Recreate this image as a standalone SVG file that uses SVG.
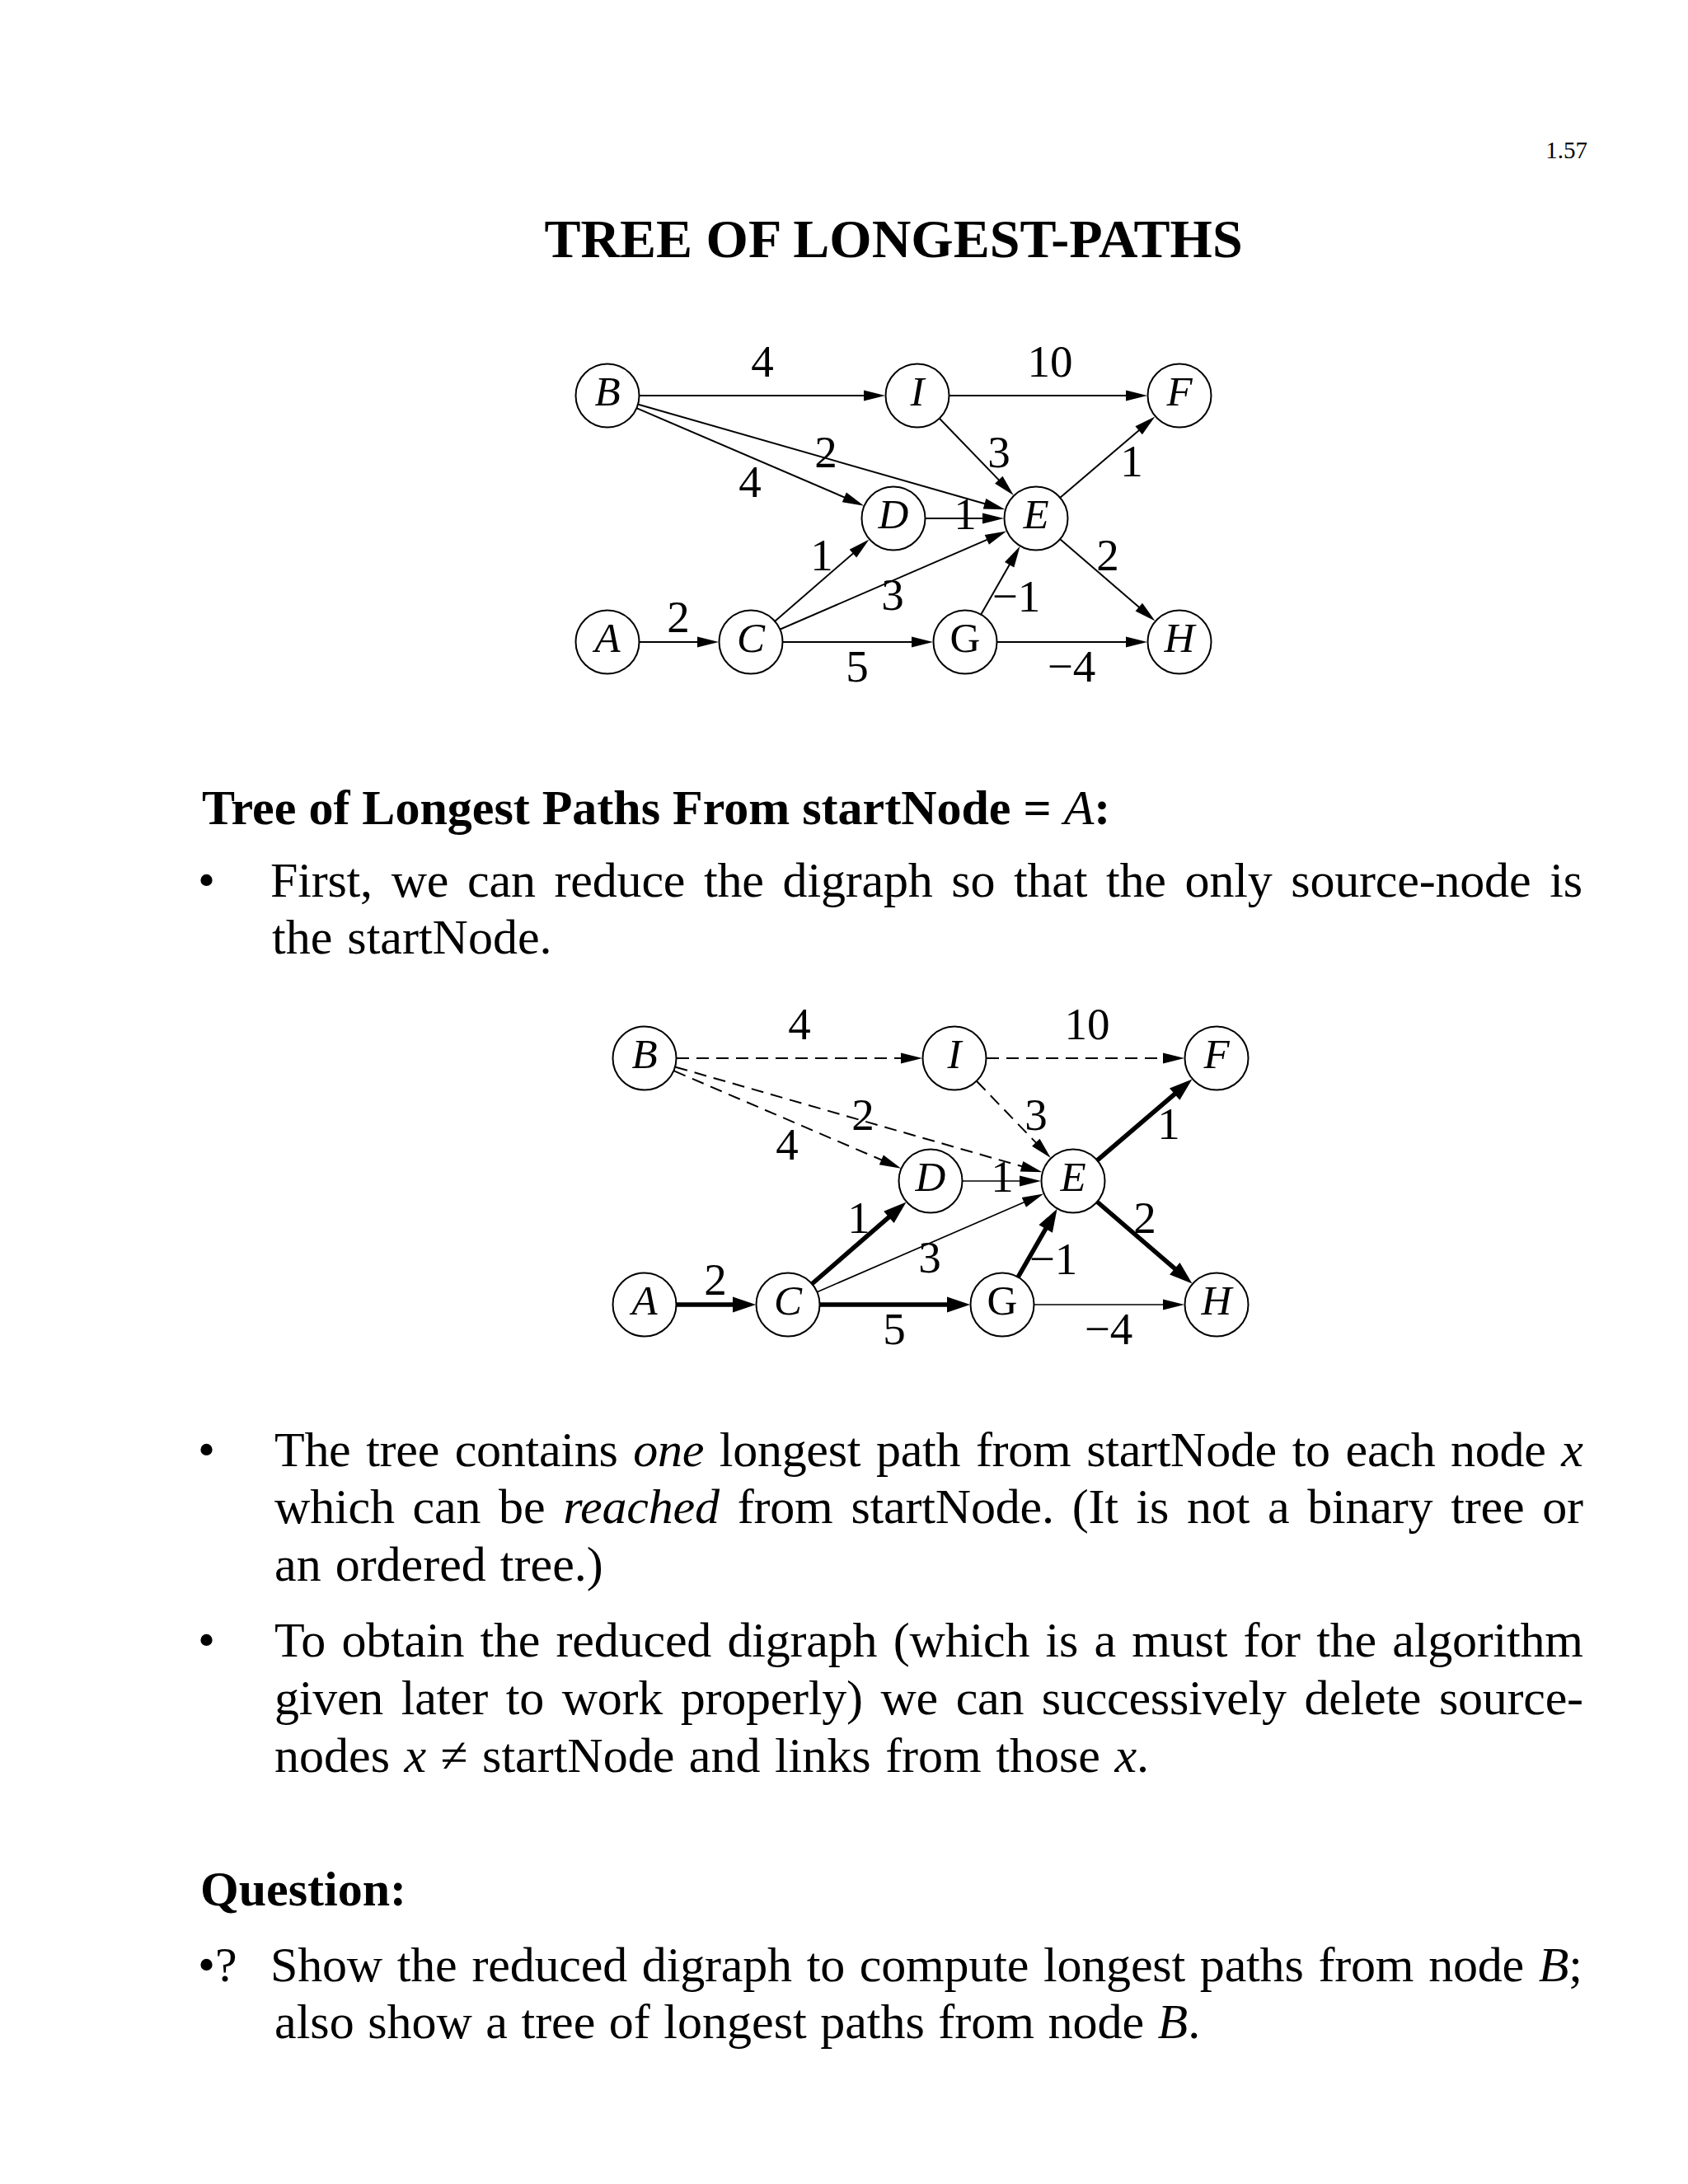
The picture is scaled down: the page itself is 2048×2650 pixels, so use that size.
<svg xmlns="http://www.w3.org/2000/svg" width="2048" height="2650" viewBox="0 0 2048 2650">
<defs>
<style>
.t{font-family:"Liberation Serif","Times New Roman",serif;fill:#000}
.body{font-size:60px}
.b{font-weight:bold}
.i{font-style:italic}
.lbl{font-family:"Liberation Serif","Times New Roman",serif;font-size:55px;text-anchor:middle;fill:#000}
.nl{font-family:"Liberation Serif","Times New Roman",serif;font-size:51px;font-style:italic;text-anchor:middle;fill:#000}
.up{font-style:normal}
.node circle{fill:#fff;stroke:#000;stroke-width:2}
.e{stroke:#000;stroke-width:2;fill:none;marker-end:url(#ah)}
.thin{stroke-width:1.7}
.dash{stroke-dasharray:15 9}
.thick{stroke-width:5.5;stroke-linecap:round;marker-end:url(#ahb)}
</style>
<marker id="ah" markerUnits="userSpaceOnUse" markerWidth="30" markerHeight="16" refX="14" refY="6.5" orient="auto" overflow="visible"><path d="M0,0 L26,6.5 L0,13 z" fill="#000"/></marker>
<marker id="ahb" markerUnits="userSpaceOnUse" markerWidth="30" markerHeight="22" refX="16" refY="9.5" orient="auto" overflow="visible"><path d="M0,0 L28,9.5 L0,19 z" fill="#000"/></marker>
</defs>
<rect width="2048" height="2650" fill="#fff"/>

<text class="t" x="1926" y="192" font-size="29" text-anchor="end">1.57</text>
<text class="t b" x="1084" y="312" font-size="66" text-anchor="middle">TREE OF LONGEST-PATHS</text>

<!-- Graph 1 -->
<g id="graph1">
<g id="g1-connectors">
<line class="e" x1="776" y1="480" x2="1062" y2="480"/>
<line class="e" x1="1152" y1="480" x2="1380" y2="480"/>
<line class="e" x1="772.8" y1="495.4" x2="1037.2" y2="608.9"/>
<line class="e" x1="774.5" y1="490.7" x2="1208" y2="615"/>
<line class="e" x1="1140.1" y1="508" x2="1221.5" y2="592.4"/>
<line class="e" x1="1123" y1="629" x2="1206" y2="629"/>
<line class="e" x1="940.5" y1="753.5" x2="1045.5" y2="662.4"/>
<line class="e" x1="946.8" y1="763.5" x2="1210.2" y2="649.3"/>
<line class="e" x1="950" y1="779" x2="1120" y2="779"/>
<line class="e" x1="776" y1="779" x2="860" y2="779"/>
<line class="e" x1="1190.4" y1="745.2" x2="1231.6" y2="673.2"/>
<line class="e" x1="1210" y1="779" x2="1380" y2="779"/>
<line class="e" x1="1286.6" y1="603.6" x2="1392.3" y2="513.2"/>
<line class="e" x1="1286.5" y1="654.5" x2="1392.4" y2="745.7"/>
</g>
<g id="g1-labels">
<text class="lbl" x="925" y="457">4</text>
<text class="lbl" x="1002" y="567">2</text>
<text class="lbl" x="910" y="603">4</text>
<text class="lbl" x="823" y="767">2</text>
<text class="lbl" x="997" y="692">1</text>
<text class="lbl" x="1040" y="827">5</text>
<text class="lbl" x="1274" y="457">10</text>
<text class="lbl" x="1212" y="567">3</text>
<text class="lbl" x="1373" y="578">1</text>
<text class="lbl" x="1171" y="642">1</text>
<text class="lbl" x="1344" y="692">2</text>
<text class="lbl" x="1083" y="740">3</text>
<text class="lbl" x="1233" y="742">−1</text>
<text class="lbl" x="1300" y="827">−4</text>
</g>
<g id="g1-B" class="node"><circle cx="737" cy="480" r="38.5"/><text class="nl" x="737" y="492">B</text></g>
<g id="g1-I" class="node"><circle cx="1113" cy="480" r="38.5"/><text class="nl" x="1113" y="492">I</text></g>
<g id="g1-F" class="node"><circle cx="1431" cy="480" r="38.5"/><text class="nl" x="1431" y="492">F</text></g>
<g id="g1-D" class="node"><circle cx="1084" cy="629" r="38.5"/><text class="nl" x="1084" y="641">D</text></g>
<g id="g1-E" class="node"><circle cx="1257" cy="629" r="38.5"/><text class="nl" x="1257" y="641">E</text></g>
<g id="g1-A" class="node"><circle cx="737" cy="779" r="38.5"/><text class="nl" x="737" y="791">A</text></g>
<g id="g1-C" class="node"><circle cx="911" cy="779" r="38.5"/><text class="nl" x="911" y="791">C</text></g>
<g id="g1-G" class="node"><circle cx="1171" cy="779" r="38.5"/><text class="nl up" x="1171" y="791">G</text></g>
<g id="g1-H" class="node"><circle cx="1431" cy="779" r="38.5"/><text class="nl" x="1431" y="791">H</text></g>
</g>

<text class="t body b" x="245" y="1000">Tree of Longest Paths From startNode = <tspan class="i" font-weight="normal">A</tspan>:</text>
<text class="t body" x="240" y="1088">•</text>
<text class="t body" x="328" y="1088" word-spacing="8" textLength="1592" lengthAdjust="spacing">First, we can reduce the digraph so that the only source-node is</text>
<text class="t body" x="330" y="1157" word-spacing="3">the startNode.</text>

<!-- Graph 2 -->
<g id="graph2" transform="translate(45 804)">
<g id="g2-connectors">
<line class="e dash" x1="776" y1="480" x2="1062" y2="480"/>
<line class="e dash" x1="1152" y1="480" x2="1380" y2="480"/>
<line class="e dash" x1="772.8" y1="495.4" x2="1037.2" y2="608.9"/>
<line class="e dash" x1="774.5" y1="490.7" x2="1208" y2="615"/>
<line class="e dash" x1="1140.1" y1="508" x2="1221.5" y2="592.4"/>
<line class="e thin" x1="1123" y1="629" x2="1206" y2="629"/>
<line class="e thick" x1="940.5" y1="753.5" x2="1045.5" y2="662.4"/>
<line class="e thin" x1="946.8" y1="763.5" x2="1210.2" y2="649.3"/>
<line class="e thick" x1="950" y1="779" x2="1120" y2="779"/>
<line class="e thick" x1="776" y1="779" x2="860" y2="779"/>
<line class="e thick" x1="1190.4" y1="745.2" x2="1231.6" y2="673.2"/>
<line class="e thin" x1="1210" y1="779" x2="1380" y2="779"/>
<line class="e thick" x1="1286.6" y1="603.6" x2="1392.3" y2="513.2"/>
<line class="e thick" x1="1286.5" y1="654.5" x2="1392.4" y2="745.7"/>
</g>
<g id="g2-labels">
<text class="lbl" x="925" y="457">4</text>
<text class="lbl" x="1002" y="567">2</text>
<text class="lbl" x="910" y="603">4</text>
<text class="lbl" x="823" y="767">2</text>
<text class="lbl" x="997" y="692">1</text>
<text class="lbl" x="1040" y="827">5</text>
<text class="lbl" x="1274" y="457">10</text>
<text class="lbl" x="1212" y="567">3</text>
<text class="lbl" x="1373" y="578">1</text>
<text class="lbl" x="1171" y="642">1</text>
<text class="lbl" x="1344" y="692">2</text>
<text class="lbl" x="1083" y="740">3</text>
<text class="lbl" x="1233" y="742">−1</text>
<text class="lbl" x="1300" y="827">−4</text>
</g>
<g id="g2-B" class="node"><circle cx="737" cy="480" r="38.5"/><text class="nl" x="737" y="492">B</text></g>
<g id="g2-I" class="node"><circle cx="1113" cy="480" r="38.5"/><text class="nl" x="1113" y="492">I</text></g>
<g id="g2-F" class="node"><circle cx="1431" cy="480" r="38.5"/><text class="nl" x="1431" y="492">F</text></g>
<g id="g2-D" class="node"><circle cx="1084" cy="629" r="38.5"/><text class="nl" x="1084" y="641">D</text></g>
<g id="g2-E" class="node"><circle cx="1257" cy="629" r="38.5"/><text class="nl" x="1257" y="641">E</text></g>
<g id="g2-A" class="node"><circle cx="737" cy="779" r="38.5"/><text class="nl" x="737" y="791">A</text></g>
<g id="g2-C" class="node"><circle cx="911" cy="779" r="38.5"/><text class="nl" x="911" y="791">C</text></g>
<g id="g2-G" class="node"><circle cx="1171" cy="779" r="38.5"/><text class="nl up" x="1171" y="791">G</text></g>
<g id="g2-H" class="node"><circle cx="1431" cy="779" r="38.5"/><text class="nl" x="1431" y="791">H</text></g>
</g>

<text class="t body" x="240" y="1779">•</text>
<text class="t body" x="333" y="1779" word-spacing="4" textLength="1588" lengthAdjust="spacing">The tree contains <tspan class="i">one</tspan> longest path from startNode to each node <tspan class="i">x</tspan></text>
<text class="t body" x="333" y="1848" word-spacing="7" textLength="1588" lengthAdjust="spacing">which can be <tspan class="i">reached</tspan> from startNode.  (It is not a binary tree or</text>
<text class="t body" x="333" y="1918" word-spacing="2">an ordered tree.)</text>

<text class="t body" x="240" y="2010">•</text>
<text class="t body" x="333" y="2010" word-spacing="4.5" textLength="1588" lengthAdjust="spacing">To obtain the reduced digraph (which is a must for the algorithm</text>
<text class="t body" x="333" y="2080" word-spacing="7" textLength="1588" lengthAdjust="spacing">given later to work properly) we can successively delete source-</text>
<text class="t body" x="333" y="2150" word-spacing="2.5">nodes <tspan class="i">x</tspan> ≠ startNode and links from those <tspan class="i">x</tspan>.</text>

<text class="t body b" x="243" y="2312">Question:</text>
<text class="t body" x="240" y="2404">•?</text>
<text class="t body" x="328" y="2404" word-spacing="3" textLength="1592" lengthAdjust="spacing">Show the reduced digraph to compute longest paths from node <tspan class="i">B</tspan>;</text>
<text class="t body" x="333" y="2473" word-spacing="1.5">also show a tree of longest paths from node <tspan class="i">B</tspan>.</text>
</svg>
